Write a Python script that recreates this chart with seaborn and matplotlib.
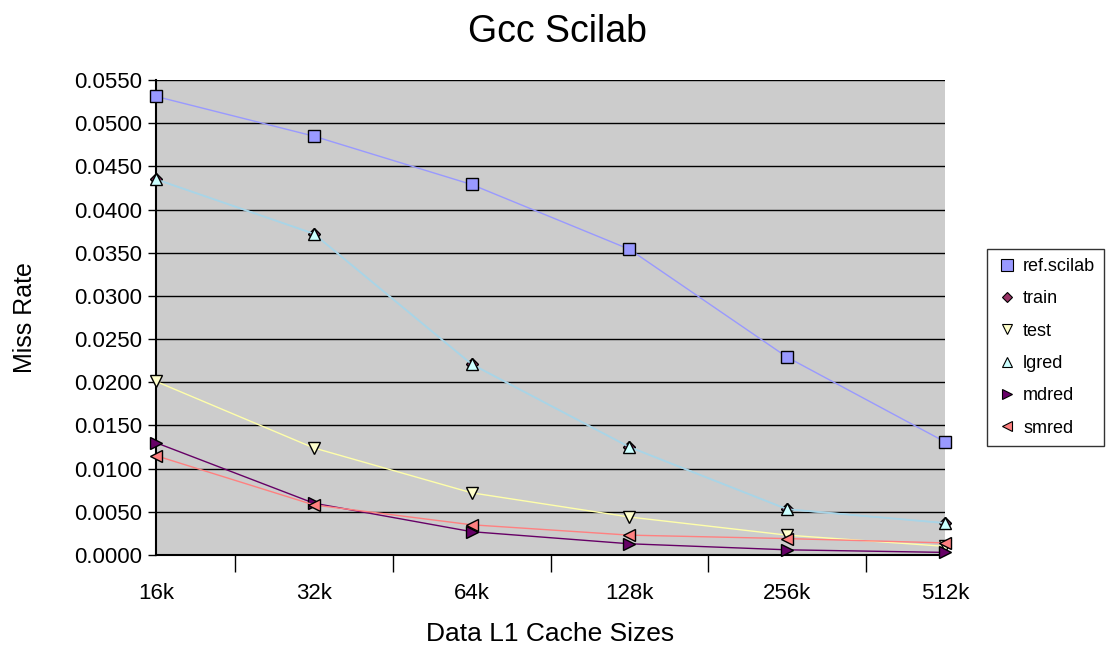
import matplotlib
matplotlib.use("Agg")
import matplotlib.pyplot as plt
from matplotlib.lines import Line2D
from matplotlib.ticker import FixedLocator, FormatStrFormatter
import seaborn as sns
import pandas as pd

# Data
cache_sizes = ["16k", "32k", "64k", "128k", "256k", "512k"]
ref_scilab = [0.0531, 0.0485, 0.0429, 0.0354, 0.0229, 0.0131]
train = [0.0435, 0.0372, 0.0221, 0.0125, 0.0053, 0.0037]
test = [0.0201, 0.0124, 0.0072, 0.0044, 0.0023, 0.0010]
lgred = [0.0435, 0.0372, 0.0221, 0.0125, 0.0053, 0.0037]
mdred = [0.0130, 0.0060, 0.0027, 0.0013, 0.0006, 0.0003]
smred = [0.0115, 0.0058, 0.0035, 0.0023, 0.0019, 0.0014]

series = {
    "ref.scilab": ref_scilab,
    "train": train,
    "test": test,
    "lgred": lgred,
    "mdred": mdred,
    "smred": smred,
}

# name: (marker, face colour, line colour, line width)
styles = {
    "ref.scilab": ("s", "#9999FF", "#9999FF", 1.0),
    "train": ("D", "#993366", "#B0D8E8", 1.0),
    "test": ("v", "#FFFFCC", "#FFFFAA", 1.0),
    "lgred": ("^", "#CCFFFF", "#A9D4E6", 1.3),
    "mdred": (">", "#660066", "#660066", 1.0),
    "smred": ("<", "#FF8080", "#FF8080", 1.0),
}
marker_sizes = {"s": 9, "D": 6, "v": 8.5, "^": 8.5, ">": 8.5, "<": 8.5}

sns.set_theme(style="white")
plt.rcParams["font.family"] = ["Liberation Sans", "DejaVu Sans"]
plt.rcParams["text.color"] = "black"
plt.rcParams["axes.labelcolor"] = "black"
plt.rcParams["xtick.color"] = "black"
plt.rcParams["ytick.color"] = "black"

fig = plt.figure(figsize=(11.11, 6.5), dpi=100)
ax = fig.add_axes([156 / 1111, 1 - 555 / 650, 789 / 1111, 475 / 650])
ax.set_facecolor("#CCCCCC")

x = list(range(len(cache_sizes)))
for i, (name, vals) in enumerate(series.items()):
    mk, fc, lc, lw = styles[name]
    df = pd.DataFrame({"x": x, "y": vals})
    sns.lineplot(data=df, x="x", y="y", ax=ax, color=lc, linewidth=lw,
                 marker=mk, markersize=marker_sizes[mk],
                 markerfacecolor=fc, markeredgecolor="black",
                 markeredgewidth=1.0, zorder=3 + i, clip_on=False)

ax.set_xlim(0, len(cache_sizes) - 1)
ax.set_ylim(0, 0.055)

yt = [i * 0.005 for i in range(12)]
ax.set_yticks(yt)
ax.yaxis.set_major_formatter(FormatStrFormatter("%.4f"))
ax.yaxis.grid(True, color="black", linewidth=1.0)
ax.xaxis.grid(False)
ax.set_axisbelow(True)

ax.set_xticks(x)
ax.set_xticklabels(cache_sizes)
ax.xaxis.set_minor_locator(FixedLocator([i + 0.5 for i in range(len(x) - 1)]))
ax.tick_params(axis="x", which="major", length=0, pad=20, labelsize=16)
ax.tick_params(axis="x", which="minor", length=12, width=1, color="black",
               direction="out", bottom=True)
ax.tick_params(axis="y", which="major", length=6, width=1, color="black",
               direction="out", left=True, labelsize=16, pad=4)

for side in ["top", "right"]:
    ax.spines[side].set_visible(False)
for side in ["left", "bottom"]:
    ax.spines[side].set_color("black")
    ax.spines[side].set_linewidth(1.5)

ax.set_xlabel("Data L1 Cache Sizes", fontsize=19)
ax.set_ylabel("Miss Rate", fontsize=18)
ax.xaxis.set_label_coords(0.5, -(622 - 555) / 475)
ax.yaxis.set_label_coords(-(156 - 37) / 789, 0.5)
fig.text(558 / 1111, 1 - 32 / 650, "Gcc Scilab", ha="center", va="center",
         fontsize=27)

handles = []
for name in series:
    mk, fc, lc, lw = styles[name]
    handles.append(Line2D([], [], linestyle="none", marker=mk,
                          markersize=marker_sizes[mk] * 0.9,
                          markerfacecolor=fc, markeredgecolor="black",
                          markeredgewidth=0.8))
leg = fig.legend(handles, list(series.keys()), loc="upper left",
                 bbox_to_anchor=(978 / 1111, 1 - 240 / 650),
                 frameon=True, fancybox=False, fontsize=13,
                 handletextpad=0.3, labelspacing=0.85, borderpad=0.5,
                 handlelength=1.2)
leg.get_frame().set_edgecolor("black")
leg.get_frame().set_linewidth(1.0)

fig.savefig("out.png", dpi=100)
